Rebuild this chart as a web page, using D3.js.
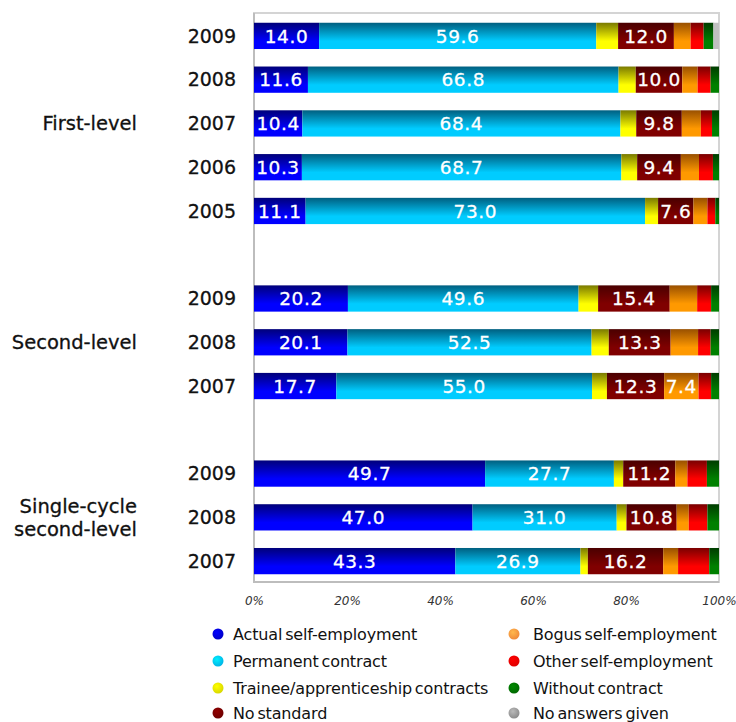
<!DOCTYPE html>
<html>
<head>
<meta charset="utf-8">
<script src="https://cdn.jsdelivr.net/npm/d3@7"></script>
<style>
  body { margin: 0; background: #fff; }
  text { font-family: "DejaVu Sans", sans-serif; }
</style>
</head>
<body>
<svg width="736" height="722"></svg>
<script>
// rows top to bottom; blank rows separate the groups
const rowIds = ["r0", "r1", "r2", "r3", "r4", "gap1", "r5", "r6", "r7", "gap2", "r8", "r9", "r10"];
const rowYears = ["2009", "2008", "2007", "2006", "2005", "2009", "2008", "2007", "2009", "2008", "2007"];
const groupNames = ["First-level", "Second-level", "Single-cycle|second-level"];
const groupRows = [["r0", "r4"], ["r5", "r7"], ["r8", "r10"]];

const seriesNames = [
  "Actual self-employment", "Permanent contract", "Trainee/apprenticeship contracts", "No standard",
  "Bogus self-employment", "Other self-employment", "Without contract", "No answers given"
];
const actualSelf  = [14.0, 11.6, 10.4, 10.3, 11.1, 20.2, 20.1, 17.7, 49.7, 47.0, 43.3];
const permanent   = [59.6, 66.8, 68.4, 68.7, 73.0, 49.6, 52.5, 55.0, 27.7, 31.0, 26.9];
const trainee     = [4.7, 3.7, 3.4, 3.4, 2.8, 4.2, 3.7, 3.2, 2.0, 2.1, 1.6];
const noStandard  = [12.0, 10.0, 9.8, 9.4, 7.6, 15.4, 13.3, 12.3, 11.2, 10.8, 16.2];
const bogusSelf   = [3.6, 3.3, 4.1, 3.9, 3.0, 5.9, 5.9, 7.4, 2.6, 2.6, 3.2];
const otherSelf   = [2.8, 2.8, 2.4, 3.0, 1.7, 3.0, 2.7, 2.7, 4.2, 4.0, 6.7];
const noContract  = [2.1, 1.8, 1.5, 1.3, 0.8, 1.7, 1.8, 1.7, 2.6, 2.5, 2.1];
const noAnswer    = [1.2, 0, 0, 0, 0, 0, 0, 0, 0, 0, 0];
const seriesValues = [actualSelf, permanent, trainee, noStandard, bogusSelf, otherSelf, noContract, noAnswer];
const xTicks = [0, 20, 40, 60, 80, 100];

// [top of bar, bottom of bar, legend dot]
const colors = [
  ["#00007a", "#0000ff", "#0000c8"],
  ["#005f80", "#00ccff", "#00b4e6"],
  ["#7a7a00", "#ffff00", "#d8d800"],
  ["#4a0000", "#800000", "#6e0000"],
  ["#995000", "#ff9900", "#f08a3a"],
  ["#7a0000", "#ff0000", "#e00000"],
  ["#003c00", "#008000", "#006800"],
  ["#c0c0c0", "#c0c0c0", "#8c8c8c"]
];

const svg = d3.select('svg');
const plot = { left: 254, right: 719, top: 14, bottom: 583 };

const xScale = d3.scaleLinear().domain([0, 100]).range([plot.left, plot.right]);
const yScale = d3.scaleBand().domain(rowIds).range([plot.top, plot.bottom])
  .paddingInner(0.4).paddingOuter(0.2);

const defs = svg.append('defs');
colors.forEach((c, i) => {
  const lg = defs.append('linearGradient').attr('id', 'bar' + i)
    .attr('x1', 0).attr('y1', 0).attr('x2', 0).attr('y2', 1);
  lg.append('stop').attr('offset', '0%').attr('stop-color', c[0]);
  lg.append('stop').attr('offset', '70%').attr('stop-color', c[1]);
  lg.append('stop').attr('offset', '100%').attr('stop-color', c[1]);
  const rg = defs.append('radialGradient').attr('id', 'dot' + i)
    .attr('cx', '40%').attr('cy', '35%').attr('r', '65%');
  rg.append('stop').attr('offset', '0%').attr('stop-color', d3.color(c[2]).brighter(0.8));
  rg.append('stop').attr('offset', '100%').attr('stop-color', c[2]);
});

// plot frame
svg.append('rect')
  .attr('x', plot.left).attr('y', plot.top - 1)
  .attr('width', plot.right - plot.left).attr('height', plot.bottom - plot.top)
  .attr('fill', 'none').attr('stroke', '#d4d4d4').attr('stroke-width', 2);
svg.append('path')
  .attr('d', `M${plot.left},${plot.top - 1}V${plot.bottom - 1}H${plot.right}`)
  .attr('fill', 'none').attr('stroke', '#bdbdbd').attr('stroke-width', 2);

// stack data
const dataRows = rowYears.map((y, i) => {
  const row = { id: 'r' + i, year: y };
  seriesNames.forEach((s, k) => { row[s] = seriesValues[k][i]; });
  return row;
});
const stacked = d3.stack().keys(seriesNames)(dataRows);

const layers = svg.append('g').selectAll('g').data(stacked).enter().append('g')
  .attr('fill', (d, i) => `url(#bar${i})`);

layers.selectAll('rect').data(d => d.filter(p => p[1] > p[0])).enter().append('rect')
  .attr('x', d => xScale(d[0]))
  .attr('y', d => yScale(d.data.id))
  .attr('width', d => xScale(d[1]) - xScale(d[0]))
  .attr('height', yScale.bandwidth());

// value labels
layers.selectAll('text').data(d => d.filter(p => p[1] - p[0] >= 7)).enter().append('text')
  .attr('x', d => xScale((d[0] + d[1]) / 2))
  .attr('y', d => yScale(d.data.id) + yScale.bandwidth() / 2)
  .attr('dy', '0.36em')
  .attr('text-anchor', 'middle')
  .attr('fill', 'white')
  .attr('stroke', 'white').attr('stroke-width', 0.3)
  .style('font-size', '18.5px')
  .style('letter-spacing', '0.6px')
  .text(d => (d[1] - d[0]).toFixed(1));

// year labels
svg.append('g').selectAll('text').data(dataRows).enter().append('text')
  .attr('x', 236)
  .attr('y', d => yScale(d.id) + yScale.bandwidth() / 2)
  .attr('dy', '0.36em')
  .attr('text-anchor', 'end')
  .attr('fill', '#111')
  .attr('stroke', '#111').attr('stroke-width', 0.3)
  .style('font-size', '19px')
  .text(d => d.year);

// group labels
groupNames.forEach((name, i) => {
  const [a, b] = groupRows[i];
  const yMid = (yScale(a) + yScale(b) + yScale.bandwidth()) / 2;
  const lines = name.split('|');
  const t = svg.append('text')
    .attr('text-anchor', 'end')
    .attr('fill', '#111')
    .attr('stroke', '#111').attr('stroke-width', 0.3)
    .style('font-size', '19.5px')
    .attr('y', yMid - (lines.length - 1) * 11.5);
  lines.forEach((ln, j) => {
    t.append('tspan').attr('x', 137).attr('dy', j === 0 ? '0.36em' : '23').text(ln);
  });
});

// x axis
const xAxis = d3.axisBottom(xScale)
  .tickValues(xTicks)
  .tickSize(0)
  .tickPadding(13)
  .tickFormat(d => d + '%');
const xAxisG = svg.append('g').attr('transform', `translate(0,${plot.bottom})`).call(xAxis);
xAxisG.select('.domain').remove();
xAxisG.selectAll('text')
  .style('font-size', '12px')
  .style('font-style', 'italic')
  .attr('fill', '#333');

// legend
const legend = svg.append('g').selectAll('g').data(seriesNames).enter().append('g')
  .attr('transform', (d, i) => `translate(${i < 4 ? 218 : 514},${[634, 661, 688, 713][i % 4]})`);
legend.append('circle').attr('r', 5.5).attr('fill', (d, i) => `url(#dot${i})`);
legend.append('text')
  .attr('x', (d, i) => i < 4 ? 15 : 19)
  .attr('dy', '0.36em')
  .attr('fill', '#111')
  .style('font-size', '16px')
  .style('letter-spacing', '-0.15px')
  .style('word-spacing', '-2px')
  .text(d => d);
</script>
</body>
</html>
